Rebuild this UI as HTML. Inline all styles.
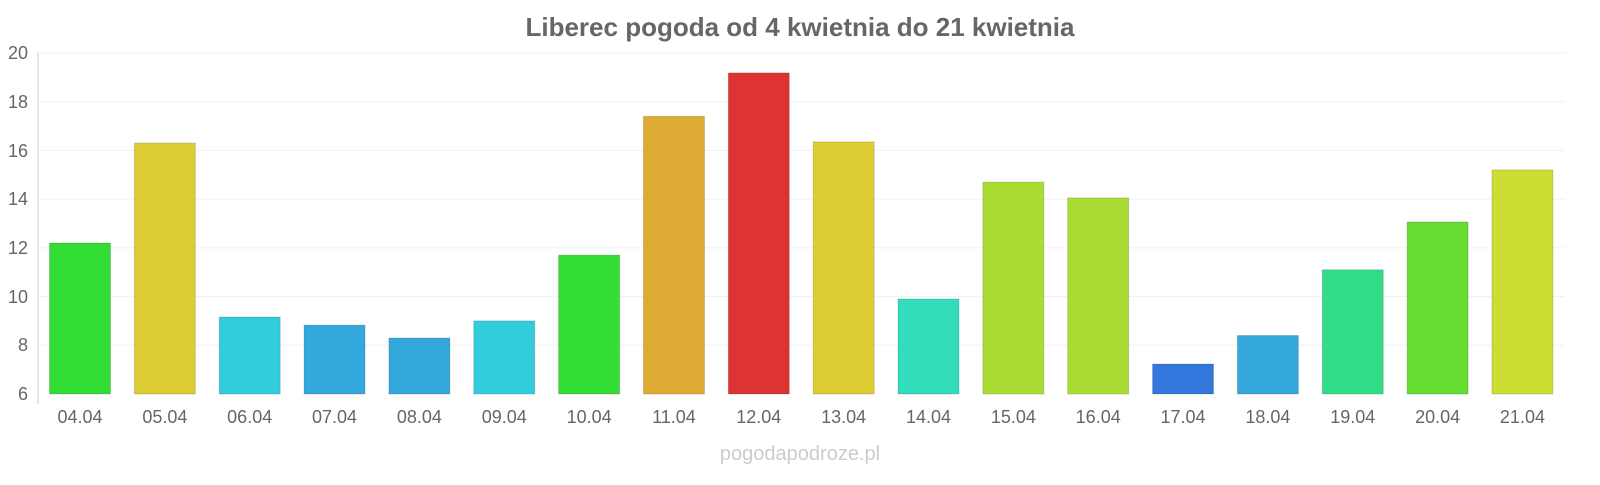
<!DOCTYPE html>
<html><head><meta charset="utf-8"><style>
body{margin:0;background:#fff;width:1600px;height:480px;overflow:hidden;font-family:"Liberation Sans",sans-serif}
</style></head><body>
<svg width="1600" height="480" xmlns="http://www.w3.org/2000/svg" font-family="Liberation Sans, sans-serif">
<text x="800" y="36" text-anchor="middle" font-size="26" font-weight="bold" fill="#666">Liberec pogoda od 4 kwietnia do 21 kwietnia</text>
<g stroke="#f0f0f0" stroke-width="1">
<line x1="38" x2="1565" y1="53" y2="53"/><line x1="38" x2="1565" y1="101.7" y2="101.7"/>
<line x1="38" x2="1565" y1="150.4" y2="150.4"/><line x1="38" x2="1565" y1="199.1" y2="199.1"/>
<line x1="38" x2="1565" y1="247.9" y2="247.9"/><line x1="38" x2="1565" y1="296.6" y2="296.6"/>
<line x1="38" x2="1565" y1="345.3" y2="345.3"/>
</g>
<line x1="38" x2="38" y1="53" y2="404" stroke="#ccc"/>
<g font-size="18" fill="#666" text-anchor="end">
<text x="28" y="59">20</text><text x="28" y="108">18</text><text x="28" y="157">16</text>
<text x="28" y="205">14</text><text x="28" y="254">12</text><text x="28" y="303">10</text>
<text x="28" y="351">8</text><text x="28" y="400">6</text>
</g>
<g stroke="rgba(0,0,0,0.15)" stroke-width="1">
<rect x="49.5" y="243.0" width="61" height="151.0" fill="#33dd33"/>
<rect x="134.35" y="143.1" width="61" height="250.9" fill="#ddcc33"/>
<rect x="219.2" y="317.0" width="61" height="77.0" fill="#33ccdd"/>
<rect x="304.05" y="325.1" width="61" height="68.9" fill="#33a8dd"/>
<rect x="388.9" y="338.0" width="61" height="56.0" fill="#33a8dd"/>
<rect x="473.75" y="320.9" width="61" height="73.1" fill="#33ccdd"/>
<rect x="558.6" y="255.1" width="61" height="138.9" fill="#33dd33"/>
<rect x="643.45" y="116.3" width="61" height="277.7" fill="#ddaa33"/>
<rect x="728.3" y="72.9" width="61" height="321.1" fill="#dd3333"/>
<rect x="813.15" y="141.9" width="61" height="252.1" fill="#ddcc33"/>
<rect x="898.0" y="299.0" width="61" height="95.0" fill="#33ddbb"/>
<rect x="982.85" y="182.1" width="61" height="211.9" fill="#aadd33"/>
<rect x="1067.7" y="197.9" width="61" height="196.1" fill="#aadd33"/>
<rect x="1152.55" y="364.0" width="61" height="30.0" fill="#3377dd"/>
<rect x="1237.4" y="335.5" width="61" height="58.5" fill="#33a8dd"/>
<rect x="1322.25" y="269.8" width="61" height="124.2" fill="#33dd88"/>
<rect x="1407.1" y="222.0" width="61" height="172.0" fill="#66dd33"/>
<rect x="1491.95" y="169.9" width="61" height="224.1" fill="#ccdd33"/>
</g>
<g font-size="18" fill="#666" text-anchor="middle">
<text x="80" y="423">04.04</text><text x="164.85" y="423">05.04</text><text x="249.7" y="423">06.04</text>
<text x="334.55" y="423">07.04</text><text x="419.4" y="423">08.04</text><text x="504.25" y="423">09.04</text>
<text x="589.1" y="423">10.04</text><text x="673.95" y="423">11.04</text><text x="758.8" y="423">12.04</text>
<text x="843.65" y="423">13.04</text><text x="928.5" y="423">14.04</text><text x="1013.35" y="423">15.04</text>
<text x="1098.2" y="423">16.04</text><text x="1183.05" y="423">17.04</text><text x="1267.9" y="423">18.04</text>
<text x="1352.75" y="423">19.04</text><text x="1437.6" y="423">20.04</text><text x="1522.45" y="423">21.04</text>
</g>
<text x="800" y="460" text-anchor="middle" font-size="20" fill="#ccc">pogodapodroze.pl</text>
</svg>
</body></html>
